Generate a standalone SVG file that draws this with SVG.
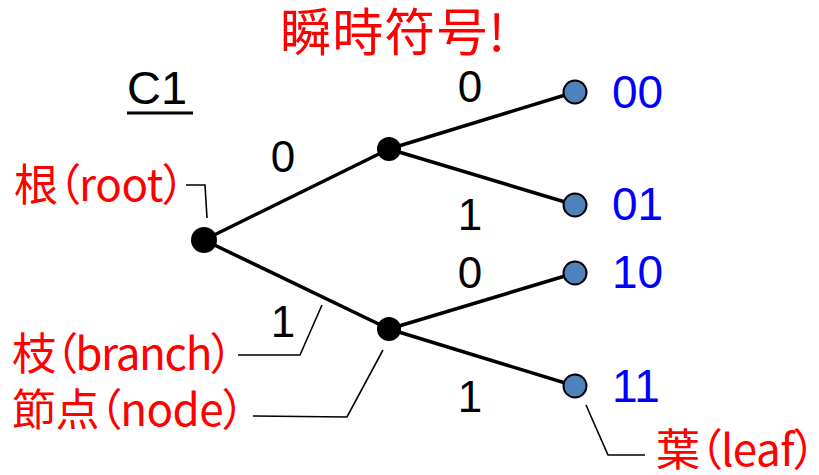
<svg xmlns="http://www.w3.org/2000/svg" width="819" height="475" viewBox="0 0 819 475">
<style>
.edge{stroke:#000;stroke-width:3.5;fill:none;stroke-linecap:round}
.lead{stroke:#000;stroke-width:1.6;fill:none}
.node{fill:#000}
.leaf{fill:#4F81BD;stroke:#000;stroke-width:2}
.bit{font-family:"Liberation Sans",Arial,sans-serif;font-size:44px;fill:#000;text-anchor:middle}
.code{font-family:"Liberation Sans",Arial,sans-serif;font-size:46px;fill:#0000FF}
.jp{font-family:"Noto Sans CJK JP","Noto Sans",sans-serif;font-size:44px;fill:#FF0000;font-feature-settings:"palt"}
</style>
<rect width="819" height="475" fill="#fff"/>
<text x="280" y="51" class="jp" style="font-size:51px" textLength="225" lengthAdjust="spacing">瞬時符号!</text>
<g id="title-c1">
<text x="127" y="104" font-family="Liberation Sans,Arial,sans-serif" font-size="47" fill="#000">C1</text>
<line x1="127" y1="113" x2="193" y2="113" stroke="#000" stroke-width="3"/>
</g>
<g id="connectors">
<line class="edge" x1="204" y1="240" x2="389" y2="149"/>
<line class="edge" x1="204" y1="240" x2="389" y2="329"/>
<line class="edge" x1="389" y1="149" x2="575" y2="92"/>
<line class="edge" x1="389" y1="149" x2="575" y2="205"/>
<line class="edge" x1="389" y1="329" x2="575" y2="273"/>
<line class="edge" x1="389" y1="329" x2="575" y2="386"/>
<polyline class="lead" points="186,185 205,185 207,218"/>
<polyline class="lead" points="238,355 300,355 322,305"/>
<polyline class="lead" points="253,416 347,417 383,350"/>
<polyline class="lead" points="586,405 608,455 645,455"/>
</g>
<g id="edge-labels">
<text class="bit" x="283" y="172">0</text>
<text class="bit" x="283" y="337">1</text>
<text class="bit" x="470" y="102">0</text>
<text class="bit" x="470" y="230">1</text>
<text class="bit" x="470" y="288">0</text>
<text class="bit" x="470" y="412">1</text>
</g>
<g id="root"><circle class="node" cx="204" cy="240" r="13"/></g>
<g id="node-0"><circle class="node" cx="389" cy="149" r="12"/></g>
<g id="node-1"><circle class="node" cx="389" cy="329" r="12"/></g>
<g id="leaf-00"><circle class="leaf" cx="575" cy="92" r="11.5"/><text class="code" x="612" y="108">00</text></g>
<g id="leaf-01"><circle class="leaf" cx="575" cy="205" r="11.5"/><text class="code" x="612" y="220">01</text></g>
<g id="leaf-10"><circle class="leaf" cx="575" cy="273" r="11.5"/><text class="code" x="612" y="288">10</text></g>
<g id="leaf-11"><circle class="leaf" cx="575" cy="386" r="11.5"/><text class="code" x="612" y="402">11</text></g>
<g id="annotations">
<text class="jp" x="14" y="201" textLength="171" lengthAdjust="spacing">根（root）</text>
<text class="jp" x="12" y="370" textLength="221" lengthAdjust="spacing">枝（branch）</text>
<text class="jp" x="12" y="426" textLength="233" lengthAdjust="spacing">節点（node）</text>
<text class="jp" x="656" y="466" textLength="160" lengthAdjust="spacing">葉（leaf）</text>
</g>
</svg>
